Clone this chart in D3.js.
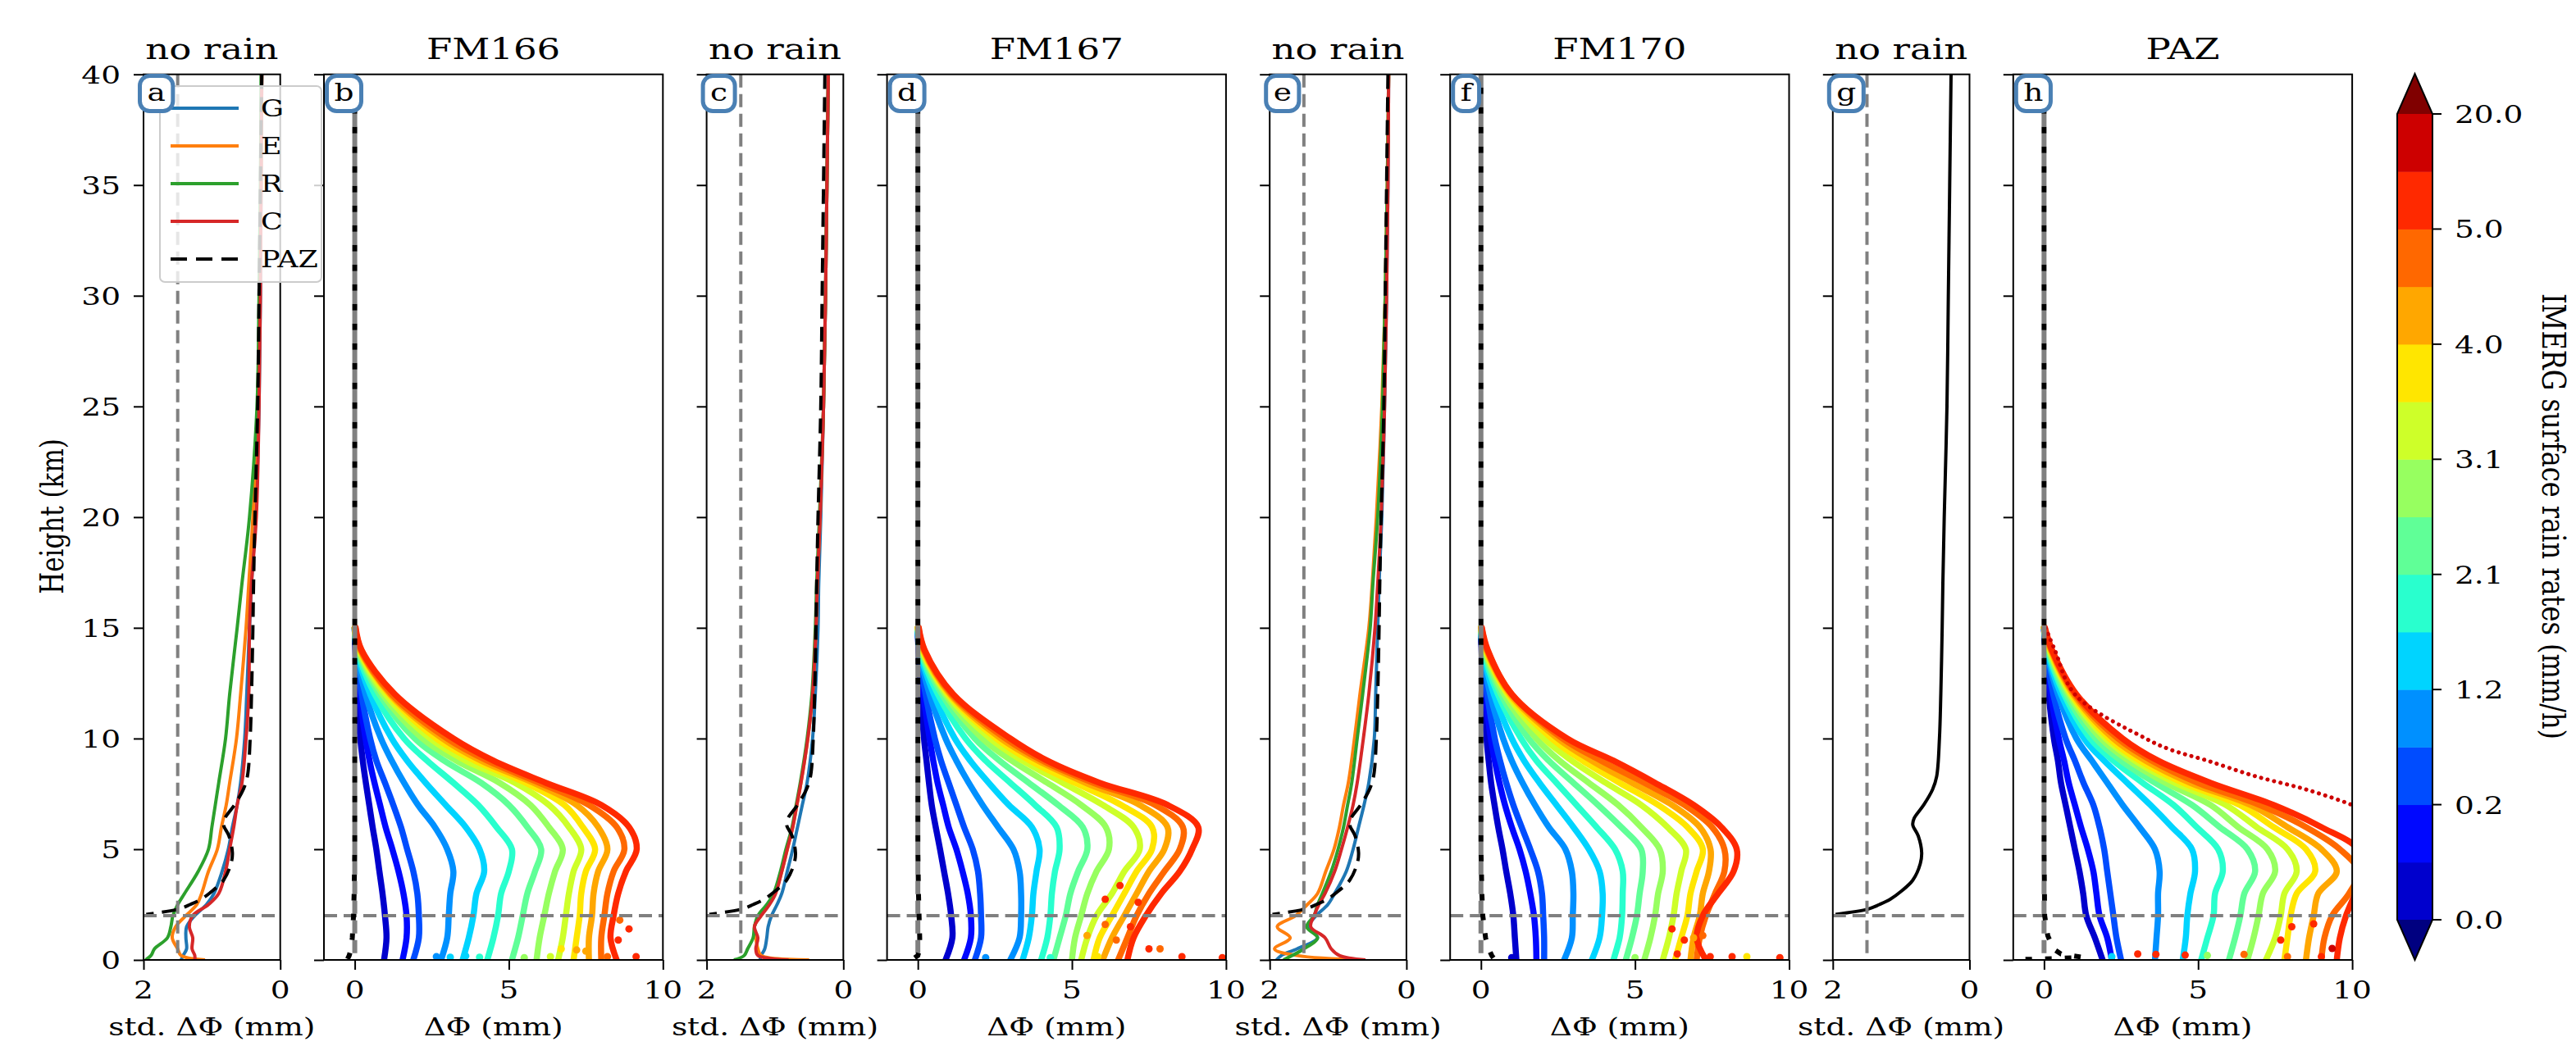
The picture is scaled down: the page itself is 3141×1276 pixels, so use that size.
<!DOCTYPE html>
<html><head><meta charset="utf-8">
<script src="https://cdn.jsdelivr.net/npm/d3@7"></script>
<style>body{margin:0;background:#fff}svg{display:block}text{font-family:"DejaVu Serif",serif;fill:#000}</style>
</head><body><svg id="c" width="3141" height="1276"></svg>
<script>
// ---------------- DATA ----------------
const yTicks=[0,5,10,15,20,25,30,35,40];
const stdTicks=[2,0];
const dphiTicks=[0,5,10];
const titles=['no rain','FM166','no rain','FM167','no rain','FM170','no rain','PAZ'];
const letters=['a','b','c','d','e','f','g','h'];
const legendLabels=['G','E','R','C','PAZ'];
const cbTickLabels=['0.0','0.2','1.2','2.1','3.1','4.0','5.0','20.0'];
const jet16=['#000080','#0000cd','#0008ff','#004cff','#0090ff','#00d4ff','#29ffce','#60ff97','#97ff60','#ceff29','#ffe600','#ffa700','#ff6800','#ff2900','#cd0000','#800000'];
const gnssColors=['#1f77b4','#ff7f0e','#2ca02c','#d62728'];

// no-rain std profiles (height km)
const NH=[40,35,30,25,20,17,15,12,10,8,7,6,5,4,3,2.5,2,1.5,1,0.5,0.2,0];
const nrA_G=[0.27,0.28,0.29,0.31,0.36,0.42,0.45,0.49,0.52,0.58,0.63,0.7,0.76,0.85,0.97,1.08,1.25,1.37,1.38,1.37,1.42,1.45];
const nrA_E=[0.27,0.28,0.3,0.33,0.4,0.46,0.5,0.58,0.64,0.74,0.79,0.86,0.92,1.05,1.15,1.22,1.38,1.53,1.58,1.5,1.45,1.1];
const nrA_R=[0.28,0.29,0.31,0.34,0.45,0.56,0.63,0.74,0.8,0.9,0.95,1.0,1.05,1.2,1.4,1.5,1.57,1.6,1.65,1.84,1.89,1.97];
const nrA_C=[0.27,0.28,0.29,0.31,0.35,0.42,0.45,0.46,0.5,0.56,0.63,0.68,0.74,0.8,0.9,1.05,1.28,1.33,1.28,1.29,1.25,1.25];
const nrC_G=[0.22,0.24,0.26,0.29,0.33,0.36,0.37,0.41,0.45,0.53,0.6,0.67,0.74,0.82,0.9,0.97,1.05,1.1,1.12,1.15,1.2,1.22];
const nrC_E=[0.22,0.24,0.26,0.29,0.34,0.38,0.4,0.45,0.52,0.62,0.68,0.74,0.82,0.9,1.0,1.1,1.22,1.3,1.28,1.25,1.2,0.5];
const nrC_R=[0.22,0.24,0.26,0.29,0.35,0.39,0.41,0.46,0.53,0.63,0.69,0.75,0.84,0.92,1.02,1.12,1.25,1.3,1.32,1.4,1.45,1.6];
const nrC_C=[0.22,0.24,0.26,0.29,0.34,0.38,0.4,0.45,0.52,0.62,0.68,0.74,0.82,0.9,0.99,1.08,1.2,1.3,1.25,1.28,1.25,0.8];
const nrE_G=[0.26,0.27,0.29,0.32,0.36,0.4,0.42,0.45,0.47,0.55,0.62,0.7,0.78,0.88,1.05,1.15,1.32,1.43,1.3,1.6,1.83,1.9];
const nrE_E=[0.26,0.28,0.31,0.36,0.44,0.5,0.55,0.68,0.76,0.85,0.92,0.98,1.06,1.18,1.3,1.45,1.62,1.89,1.7,1.93,1.6,0.6];
const nrE_R=[0.26,0.28,0.31,0.35,0.42,0.49,0.53,0.64,0.72,0.8,0.86,0.92,1.0,1.1,1.23,1.3,1.35,1.46,1.3,1.5,1.67,1.8];
const nrE_C=[0.26,0.27,0.29,0.32,0.37,0.42,0.46,0.55,0.63,0.72,0.78,0.86,0.95,1.05,1.19,1.28,1.35,1.4,1.19,1.1,0.98,0.6];
const pazStdH=[40,35,30,25,20,17,15,12,10,8.3,7.7,7,6.4,6.1,5.6,4.85,4.35,3.6,3.1,2.74,2.5,2.3,2.06];
const pazStd=[0.27,0.29,0.31,0.33,0.37,0.39,0.4,0.42,0.44,0.48,0.54,0.67,0.81,0.83,0.75,0.7,0.72,0.83,1.0,1.16,1.32,1.48,1.96];

// rain profiles: heights and one row per rain-rate class (jet16[1..13])
const RH=[15,14,12,10,9,8,7,6,5,4,3,2,1,0];
const FM166=[
[0,0.02,0.08,0.18,0.26,0.36,0.47,0.58,0.7,0.8,0.9,0.98,1.03,0.95],
[0,0.03,0.15,0.35,0.48,0.64,0.82,1.0,1.22,1.42,1.58,1.68,1.68,1.55],
[0,0.04,0.22,0.5,0.7,0.98,1.25,1.5,1.7,1.9,2.03,2.08,2.08,1.9],
[0,0.05,0.35,0.85,1.2,1.6,2.05,2.6,3.0,3.2,3.1,3.05,3.0,2.8],
[0,0.06,0.5,1.2,1.7,2.3,2.95,3.6,4.05,4.2,3.95,3.85,3.7,3.5],
[0,0.08,0.65,1.6,2.35,3.2,4.0,4.6,5.1,5.0,4.75,4.65,4.5,4.3],
[0,0.1,0.8,1.95,2.9,4.1,5.0,5.6,6.05,5.85,5.6,5.45,5.3,5.1],
[0,0.12,0.9,2.2,3.3,4.7,5.7,6.3,6.75,6.5,6.3,6.15,6.0,5.9],
[0,0.14,1.0,2.45,3.6,5.2,6.3,6.95,7.35,7.1,6.95,6.85,6.75,6.6],
[0,0.16,1.1,2.65,3.9,5.55,6.8,7.4,7.8,7.5,7.35,7.3,7.2,7.1],
[0,0.18,1.15,2.85,4.1,5.8,7.2,7.9,8.2,7.9,7.75,7.7,7.6,7.6],
[0.02,0.2,1.2,3.0,4.3,6.0,7.6,8.5,8.75,8.4,8.2,8.1,8.0,8.0],
[0.03,0.22,1.3,3.2,4.5,6.2,8.0,8.9,9.15,8.8,8.55,8.4,8.3,8.5]];
const FM167=[
[0,0.02,0.1,0.2,0.28,0.36,0.45,0.58,0.72,0.85,0.98,1.08,1.12,0.9],
[0,0.03,0.18,0.38,0.5,0.64,0.82,1.0,1.25,1.45,1.62,1.72,1.72,1.5],
[0,0.04,0.25,0.55,0.75,1.0,1.25,1.5,1.78,1.95,2.02,2.05,2.05,1.85],
[0,0.05,0.38,0.9,1.25,1.65,2.1,2.6,3.1,3.3,3.35,3.35,3.3,3.0],
[0,0.06,0.52,1.2,1.7,2.3,2.95,3.7,3.95,3.85,3.75,3.7,3.6,3.4],
[0,0.08,0.65,1.55,2.2,3.0,3.8,4.5,4.6,4.45,4.35,4.3,4.2,4.0],
[0,0.1,0.78,1.85,2.65,3.6,4.55,5.35,5.5,5.2,4.95,4.8,4.6,4.4],
[0,0.12,0.88,2.1,3.05,4.2,5.3,6.1,6.2,5.8,5.5,5.3,5.1,5.0],
[0,0.14,0.95,2.35,3.4,4.7,6.0,7.0,7.2,6.7,6.3,5.8,5.5,5.3],
[0,0.16,1.0,2.55,3.65,5.1,6.6,7.6,7.6,7.1,6.7,6.3,5.9,5.7],
[0,0.18,1.05,2.7,3.9,5.45,7.2,8.1,8.0,7.5,7.1,6.7,6.3,6.0],
[0.02,0.2,1.1,2.85,4.05,5.7,7.7,8.6,8.5,8.0,7.5,7.1,6.8,6.5],
[0.03,0.22,1.15,3.0,4.2,5.9,8.1,9.1,8.9,8.5,7.9,7.4,7.0,6.8]];
const FM170=[
[0,0.02,0.08,0.18,0.25,0.33,0.44,0.56,0.7,0.82,0.95,1.05,1.1,1.15],
[0,0.03,0.14,0.32,0.45,0.6,0.78,1.0,1.25,1.45,1.6,1.72,1.78,1.8],
[0,0.04,0.2,0.45,0.62,0.82,1.05,1.32,1.6,1.85,1.98,2.02,2.05,2.05],
[0,0.05,0.3,0.72,1.0,1.35,1.75,2.2,2.74,2.95,3.0,2.98,2.95,2.7],
[0,0.06,0.42,1.0,1.4,1.9,2.45,3.0,3.5,3.85,3.95,3.93,3.85,3.6],
[0,0.08,0.55,1.3,1.8,2.45,3.1,3.75,4.35,4.6,4.6,4.58,4.5,4.3],
[0,0.1,0.65,1.55,2.2,3.0,3.8,4.55,5.2,5.25,5.15,5.06,4.9,4.7],
[0,0.12,0.75,1.8,2.55,3.5,4.45,5.2,5.8,5.9,5.75,5.65,5.5,5.3],
[0,0.14,0.85,2.05,2.95,4.05,5.2,6.05,6.65,6.5,6.35,6.25,6.1,5.9],
[0,0.16,0.9,2.3,3.3,4.5,5.75,6.7,7.2,7.0,6.8,6.7,6.5,6.3],
[0,0.18,0.95,2.5,3.6,4.9,6.2,7.1,7.45,7.4,7.2,7.1,6.9,6.8],
[0.02,0.2,1.0,2.65,3.9,5.3,6.6,7.5,7.9,7.9,7.6,7.3,7.1,7.0],
[0.03,0.22,1.0,2.8,4.3,5.65,6.9,7.8,8.3,8.2,7.7,7.2,7.0,7.3]];
const PAZrain=[
[0,0.04,0.15,0.32,0.45,0.55,0.7,0.85,1.0,1.15,1.27,1.37,1.65,1.9],
[0,0.05,0.22,0.48,0.65,0.8,1.0,1.2,1.42,1.6,1.7,1.8,2.05,2.2],
[0,0.06,0.3,0.7,1.0,1.28,1.6,1.8,1.95,2.05,2.15,2.25,2.35,2.5],
[0,0.08,0.45,1.05,1.55,2.05,2.55,3.1,3.6,3.75,3.7,3.7,3.65,3.6],
[0,0.1,0.55,1.3,1.95,2.7,3.45,4.15,4.8,4.9,4.75,4.65,4.6,4.5],
[0,0.12,0.65,1.5,2.25,3.2,4.2,4.95,5.65,5.8,5.55,5.5,5.3,5.1],
[0,0.14,0.72,1.68,2.5,3.6,4.8,5.7,6.6,6.85,6.5,6.37,6.2,6.0],
[0,0.16,0.8,1.85,2.75,3.95,5.4,6.3,7.25,7.5,7.1,6.96,6.8,6.6],
[0,0.18,0.86,2.0,2.95,4.25,5.9,6.9,7.9,8.2,7.8,7.68,7.5,7.2],
[0,0.2,0.9,2.12,3.1,4.5,6.35,7.45,8.5,8.8,8.2,8.0,7.9,7.8],
[0,0.22,0.95,2.25,3.3,4.75,6.7,7.9,9.0,9.5,8.9,8.75,8.6,8.5],
[0.02,0.24,1.0,2.4,3.5,5.0,7.0,8.5,9.6,10.2,9.9,9.35,9.1,9.0],
[0.03,0.26,1.05,2.55,3.7,5.4,7.45,9.0,10.2,10.4,10.1,9.8,9.6,9.5]];
const PAZheavyH=[15,14,12,10,9.5,9,8.3,7.7,7,6.5];
const PAZheavy=[0.05,0.35,1.0,3.3,4.1,5.3,6.85,8.5,10.0,10.8];
// scattered near-surface points: [ΔΦ, height, class index]
const scat166=[[9.13,0.15,13],[8.55,0.9,13],[8.2,0.15,12],[7.5,0.4,11],[7.2,0.45,11],[6.7,0.5,10],[6.35,0.15,9],[5.5,0.1,8],[4.05,0.12,6],[3.6,0.18,5],[3.1,0.12,5],[2.65,0.15,4],[8.9,1.4,13],[8.6,1.8,12]];
const scat167=[[6.08,2.74,13],[6.56,3.36,13],[7.15,2.6,13],[6.9,1.5,13],[7.5,0.5,13],[7.86,0.5,12],[8.57,0.15,13],[9.88,0.1,13],[5.49,1.1,11],[6.08,1.6,12],[6.44,0.9,12],[5.84,0.15,10],[4.3,0.1,6],[2.2,0.1,4]];
const scat170=[[6.37,0.27,13],[6.6,0.9,13],[7.2,1.1,12],[7.44,0.15,13],[8.15,0.15,13],[8.63,0.15,10],[9.7,0.1,13],[6.9,1.0,11],[6.2,1.4,13],[5.0,0.1,8],[1.0,0.1,1]];
const scatPAZ=[[3.04,0.27,13],[3.63,0.25,13],[4.58,0.22,13],[6.49,0.25,12],[7.68,0.9,13],[8.04,1.5,13],[8.75,1.63,13],[9.35,0.52,14],[9.0,0.15,13],[7.9,0.15,12],[5.3,0.2,8],[2.2,0.15,5]];
// mean no-rain reference (black) in rain panels
const refH=[40,10,5,3,2,1,0.5,0.2,0];
const ref166=[0,0,0,-0.02,-0.04,-0.08,-0.12,-0.18,-0.25];
const ref167=[0,0,0,0.02,0.04,0.06,0.06,0.0,-0.2];
const ref170=[0,0,0,0.03,0.06,0.15,0.25,0.35,0.45];
const refPazH=[40,10,5,2,1.1,0.5,0.27,0.12,0.06,0.02];
const refPaz=[0,0,0,0.02,0.12,0.3,0.55,1.25,0.3,-0.7];

// ---------------- LAYOUT ----------------
const svg=d3.select('#c');
const SX=1.25;
const pTop=90.7,pBot=1171;
const smallW=166.7,bigW=413.3,gapW=53.3,x0=175;
const y=d3.scaleLinear().domain([0,40]).range([pBot,pTop]);
function txt(g,x,yy,s,size,anchor,rot){
  return g.append('text').attr('transform',`translate(${x},${yy}) scale(${SX},1)`+(rot?` rotate(${rot})`:''))
   .attr('text-anchor',anchor||'start').attr('font-size',size).text(s);
}
const panels=[];
let L=x0;
for(let i=0;i<8;i++){
  const small=(i%2===0);
  const w=small?smallW:bigW;
  panels.push({i,small,L,w});
  L+=w+gapW;
}
const defs=svg.append('defs');
const nrSets=[[nrA_G,nrA_E,nrA_R,nrA_C],[nrC_G,nrC_E,nrC_R,nrC_C],[nrE_G,nrE_E,nrE_R,nrE_C],null];
const rainSets=[FM166,FM167,FM170,PAZrain];
const scatSets=[scat166,scat167,scat170,scatPAZ];
const refSets=[[refH,ref166],[refH,ref167],[refH,ref170],[refPazH,refPaz]];

panels.forEach(p=>{
  const x=p.small?d3.scaleLinear().domain([2,0]).range([p.L,p.L+p.w]):d3.scaleLinear().domain([-1,10]).range([p.L,p.L+p.w]);
  const g=svg.append('g');
  defs.append('clipPath').attr('id','cl'+p.i).append('rect').attr('x',p.L).attr('y',pTop).attr('width',p.w).attr('height',pBot-pTop);
  const pg=g.append('g').attr('clip-path',`url(#cl${p.i})`);
  const k=Math.floor(p.i/2);
  if(p.small){
    const set=nrSets[k];
    if(set){
      set.forEach((vals,j)=>{
        const ln=d3.line().x((d,idx)=>x(vals[idx])).y(d=>y(d)).curve(d3.curveCatmullRom.alpha(0.5));
        pg.append('path').attr('d',ln(NH)).attr('fill','none').attr('stroke',gnssColors[j]).attr('stroke-width',4).attr('stroke-linejoin','round');
      });
    }
    const lp=d3.line().x((d,idx)=>x(pazStd[idx])).y(d=>y(d)).curve(d3.curveCatmullRom.alpha(0.5));
    const pp=pg.append('path').attr('d',lp(pazStdH)).attr('fill','none').attr('stroke','#000').attr('stroke-width',4);
    if(set) pp.attr('stroke-dasharray','18,10');
    pg.append('line').attr('x1',x(1.5)).attr('x2',x(1.5)).attr('y1',pTop).attr('y2',pBot).attr('stroke','#808080').attr('stroke-width',4).attr('stroke-dasharray','16,8');
    pg.append('line').attr('x1',p.L).attr('x2',p.L+p.w).attr('y1',y(2)).attr('y2',y(2)).attr('stroke','#808080').attr('stroke-width',4).attr('stroke-dasharray','16,8');
  } else {
    const rows=rainSets[k];
    rows.forEach((vals,j)=>{
      const ln=d3.line().x((d,idx)=>x(vals[idx])).y(d=>y(d)).curve(d3.curveCatmullRom.alpha(0.5));
      pg.append('path').attr('d',ln(RH)).attr('fill','none').attr('stroke',jet16[j+1]).attr('stroke-width',7.5).attr('stroke-linejoin','round').attr('stroke-linecap','round');
    });
    if(k===3){
      const ln=d3.line().x((d,idx)=>x(PAZheavy[idx])).y(d=>y(d)).curve(d3.curveCatmullRom.alpha(0.5));
      pg.append('path').attr('d',ln(PAZheavyH)).attr('fill','none').attr('stroke',jet16[14]).attr('stroke-width',5).attr('stroke-linecap','round').attr('stroke-dasharray','0.1,8');
    }
    pg.selectAll('circle.s').data(scatSets[k]).enter().append('circle')
      .attr('cx',d=>x(d[0])).attr('cy',d=>y(d[1])).attr('r',4.5).attr('fill',d=>jet16[d[2]]);
    pg.append('line').attr('x1',p.L).attr('x2',p.L+p.w).attr('y1',y(2)).attr('y2',y(2)).attr('stroke','#808080').attr('stroke-width',4).attr('stroke-dasharray','16,8');
    pg.append('line').attr('x1',x(0)).attr('x2',x(0)).attr('y1',pTop).attr('y2',pBot).attr('stroke','#808080').attr('stroke-width',6).attr('stroke-dasharray','16,8');
    const [rh,rv]=refSets[k];
    const lr=d3.line().x((d,idx)=>x(rv[idx])).y(d=>y(d));
    pg.append('path').attr('d',lr(rh)).attr('fill','none').attr('stroke','#000').attr('stroke-width',6).attr('stroke-dasharray','8,16').attr('stroke-dashoffset',8);
  }
  g.append('rect').attr('x',p.L).attr('y',pTop).attr('width',p.w).attr('height',pBot-pTop).attr('fill','none').attr('stroke','#000').attr('stroke-width',2);
  const ya=g.append('g').attr('transform',`translate(${p.L},0)`).call(d3.axisLeft(y).tickValues(yTicks).tickSize(12).tickFormat(''));
  ya.select('.domain').remove(); ya.selectAll('line').attr('stroke','#000').attr('stroke-width',2);
  const xt=p.small?stdTicks:dphiTicks;
  const xa=g.append('g').attr('transform',`translate(0,${pBot})`).call(d3.axisBottom(x).tickValues(xt).tickSize(12).tickFormat(''));
  xa.select('.domain').remove(); xa.selectAll('line').attr('stroke','#000').attr('stroke-width',2);
  xt.forEach(t=>txt(g,x(t),1218,String(t),30,'middle'));
  if(p.i===0) yTicks.forEach(t=>txt(g,147,y(t)+11,String(t),30,'end'));
  txt(g,p.L+p.w/2,1263,p.small?'std. ΔΦ (mm)':'ΔΦ (mm)',30,'middle');
  txt(g,p.L+p.w/2,72,titles[p.i],36,'middle');
});

// legend in panel a
(function(){
  const g=svg.append('g');
  g.append('rect').attr('x',195).attr('y',105).attr('width',197).attr('height',239).attr('rx',6)
   .attr('fill','#fff').attr('fill-opacity',0.8).attr('stroke','#cccccc').attr('stroke-width',2);
  legendLabels.forEach((lab,j)=>{
    const yy=132+j*46;
    const ln=g.append('line').attr('x1',208).attr('x2',291).attr('y1',yy).attr('y2',yy).attr('stroke-width',4)
      .attr('stroke',j<4?gnssColors[j]:'#000');
    if(j===4) ln.attr('stroke-dasharray','20,11');
    txt(g,318,yy+10,lab,28,'start');
  });
})();

// letter boxes
panels.forEach(p=>{
  const g=svg.append('g');
  const t=txt(g,0,123,letters[p.i],30,'middle');
  const tl=t.node().getComputedTextLength()*SX;
  const ow=tl+23;
  const left=p.L+(p.small?-7:1);
  g.insert('rect','text').attr('x',left+2.5).attr('y',92.5).attr('width',ow-5).attr('height',43).attr('rx',12)
   .attr('fill','#fff').attr('stroke','#4a80b4').attr('stroke-width',5);
  t.attr('transform',`translate(${left+ow/2},123) scale(${SX},1)`);
});

// y label
txt(svg,77,630,'Height (km)',31,'middle',-90);

// colorbar
(function(){
  const g=svg.append('g');
  const cx0=2923,cx1=2966,cT=139,cB=1122;
  const yc=d3.scaleLinear().domain([0,14]).range([cB,cT]);
  d3.range(14).forEach(i=>{
    g.append('rect').attr('x',cx0).attr('y',yc(i+1)).attr('width',cx1-cx0).attr('height',yc(i)-yc(i+1)+0.5).attr('fill',jet16[i+1]);
  });
  g.append('path').attr('d',`M${cx0},${cT}L${(cx0+cx1)/2},90L${cx1},${cT}Z`).attr('fill',jet16[15]);
  g.append('path').attr('d',`M${cx0},${cB}L${(cx0+cx1)/2},1171L${cx1},${cB}Z`).attr('fill',jet16[0]);
  g.append('path').attr('d',`M${cx0},${cT}L${(cx0+cx1)/2},90L${cx1},${cT}L${cx1},${cB}L${(cx0+cx1)/2},1171L${cx0},${cB}Z`)
   .attr('fill','none').attr('stroke','#000').attr('stroke-width',2);
  cbTickLabels.forEach((lab,j)=>{
    const yy=yc(j*2);
    g.append('line').attr('x1',cx1).attr('x2',cx1+11).attr('y1',yy).attr('y2',yy).attr('stroke','#000').attr('stroke-width',2);
    txt(g,2993,yy+11,lab,30,'start');
  });
  txt(g,3100,630,'IMERG surface rain rates (mm/h)',32,'middle',90);
})();
</script></body></html>
